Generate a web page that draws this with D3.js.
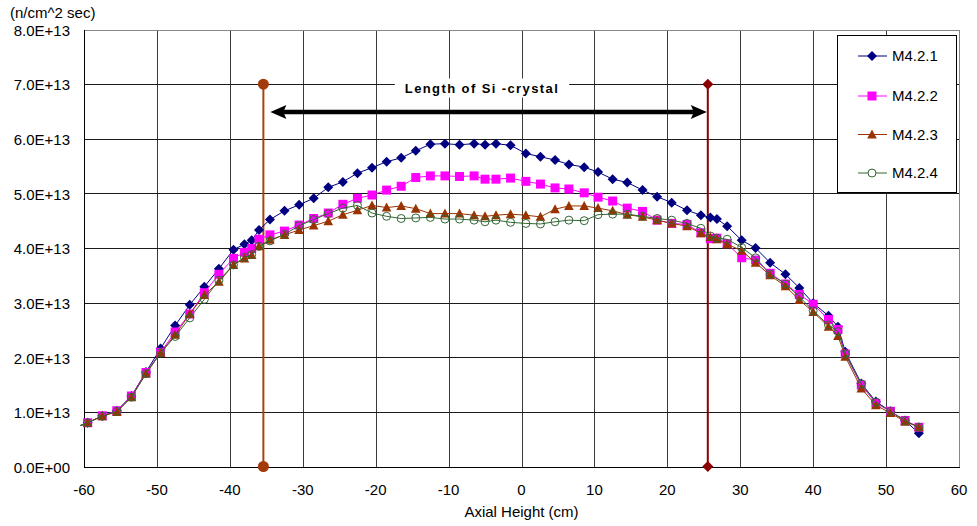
<!DOCTYPE html>
<html><head><meta charset="utf-8">
<script src="https://cdn.jsdelivr.net/npm/d3@7"></script>
<style>
body{margin:0;background:#fff;}
text{font-family:"Liberation Sans",Arial,sans-serif;}
</style></head>
<body><svg id="c" width="977" height="526"></svg>
<script>
const seriesNames = ["M4.2.1","M4.2.2","M4.2.3","M4.2.4"];
const xPos = [-61.5,-59.5,-57.5,-55.5,-53.5,-51.5,-49.5,-47.5,-45.5,-43.5,-41.5,-39.5,-38,-37,-36,-34.5,-32.5,-30.5,-28.5,-26.5,-24.5,-22.5,-20.5,-18.5,-16.5,-14.5,-12.5,-10.5,-8.5,-6.5,-5,-3.5,-1.5,0.6,2.6,4.6,6.5,8.6,10.5,12.5,14.5,16.6,18.6,20.6,22.7,24.6,25.9,26.8,28.2,30.2,32.1,34.1,36.2,38.1,40.0,42.1,43.4,44.4,46.6,48.6,50.6,52.6,54.5];
// values in units of 1E13 n/cm^2 sec
const m421 = [0.70,0.80,0.93,1.02,1.29,1.73,2.16,2.58,2.96,3.29,3.62,3.97,4.07,4.14,4.33,4.52,4.68,4.79,4.91,5.11,5.21,5.37,5.47,5.58,5.65,5.78,5.90,5.91,5.89,5.91,5.89,5.91,5.88,5.73,5.67,5.61,5.53,5.48,5.39,5.26,5.20,5.06,4.94,4.83,4.69,4.60,4.56,4.53,4.40,4.14,4.00,3.73,3.52,3.27,2.99,2.76,2.56,2.10,1.52,1.19,1.01,0.84,0.61];
const m422 = [0.70,0.80,0.93,1.02,1.29,1.72,2.09,2.46,2.79,3.18,3.52,3.81,3.92,3.99,4.16,4.24,4.31,4.42,4.54,4.64,4.80,4.91,4.97,5.06,5.13,5.29,5.32,5.32,5.31,5.32,5.26,5.26,5.28,5.22,5.17,5.10,5.08,5.01,4.93,4.86,4.73,4.67,4.51,4.45,4.43,4.28,4.17,4.18,4.08,3.82,3.78,3.54,3.34,3.15,2.97,2.69,2.51,2.06,1.49,1.16,1.01,0.84,0.72];
const m423 = [0.70,0.80,0.92,1.00,1.27,1.70,2.08,2.41,2.79,3.14,3.38,3.69,3.81,3.87,4.03,4.15,4.24,4.33,4.41,4.49,4.61,4.69,4.78,4.74,4.77,4.72,4.63,4.63,4.63,4.60,4.58,4.60,4.62,4.60,4.57,4.71,4.77,4.77,4.73,4.68,4.61,4.57,4.51,4.45,4.40,4.27,4.20,4.16,4.07,3.95,3.73,3.50,3.30,3.05,2.83,2.56,2.39,2.01,1.43,1.12,0.98,0.82,0.72];
const m424 = [0.70,0.80,0.92,1.01,1.27,1.70,2.08,2.38,2.72,3.06,3.41,3.69,3.83,3.88,4.03,4.13,4.25,4.41,4.52,4.63,4.73,4.78,4.64,4.58,4.54,4.55,4.56,4.53,4.53,4.51,4.48,4.51,4.47,4.45,4.44,4.48,4.51,4.50,4.61,4.62,4.62,4.58,4.54,4.51,4.45,4.36,4.22,4.18,4.16,4.01,3.82,3.52,3.34,3.11,2.85,2.59,2.47,2.06,1.51,1.18,1.01,0.84,0.72];
const xTicks = [-60,-50,-40,-30,-20,-10,0,10,20,30,40,50,60];
const yTicks = [0,1,2,3,4,5,6,7,8];
const yTickLabels = ["0.0E+00","1.0E+13","2.0E+13","3.0E+13","4.0E+13","5.0E+13","6.0E+13","7.0E+13","8.0E+13"];
const crystalStart = -35.4, crystalEnd = 25.55, markerTop = 7, arrowLevel = 6.49;
const annotation = "Length of Si -crystal";
const yUnitLabel = "(n/cm^2 sec)";
const xTitle = "Axial Height (cm)";

const colors = ["#000080","#FF00FF","#993300","#336633"];
const shapes = ["diamond","square","triangle","circle"];
const allSeries = [m421,m422,m423,m424];

const svg = d3.select("#c");
const L=84, R=959, T=29.5, B=466.5;
const x = d3.scaleLinear().domain([-60,60]).range([L,R]);
const y = d3.scaleLinear().domain([0,8]).range([B,T]);

function markerPath(shape){
  if(shape==="diamond") return "M0,-5L5,0L0,5L-5,0Z";
  if(shape==="square") return "M-4.5,-4.5H4.5V4.5H-4.5Z";
  if(shape==="triangle") return "M0,-5L4.8,4L-4.8,4Z";
  return d3.symbol(d3.symbolCircle, 50)();
}

// gridlines
const g = svg.append("g").attr("shape-rendering","crispEdges");
g.selectAll(".vg").data(xTicks.filter(d=>d>-60&&d<60)).join("line")
  .attr("x1",d=>Math.round(x(d))+0.5).attr("x2",d=>Math.round(x(d))+0.5)
  .attr("y1",T).attr("y2",B).attr("stroke","#3a3a3a").attr("stroke-width",1);
g.selectAll(".hg").data(yTicks.filter(d=>d>0&&d<8)).join("line")
  .attr("x1",L).attr("x2",R).attr("y1",d=>Math.round(y(d))+0.5).attr("y2",d=>Math.round(y(d))+0.5)
  .attr("stroke","#1a1a1a").attr("stroke-width",1);
// border
g.append("line").attr("x1",L).attr("x2",R).attr("y1",Math.round(T)+0.5).attr("y2",Math.round(T)+0.5).attr("stroke","#888");
g.append("line").attr("x1",Math.round(R)+0.5).attr("x2",Math.round(R)+0.5).attr("y1",T).attr("y2",B).attr("stroke","#888");
g.append("line").attr("x1",Math.round(L)+0.5).attr("x2",Math.round(L)+0.5).attr("y1",T).attr("y2",B+0.5).attr("stroke","#000");
g.append("line").attr("x1",L).attr("x2",R+1).attr("y1",Math.round(B)+0.5).attr("y2",Math.round(B)+0.5).attr("stroke","#000");

// axes labels
svg.append("g").selectAll("text").data(yTicks).join("text")
  .attr("x",70).attr("y",d=>y(d)+1).attr("dy","0.35em").attr("text-anchor","end")
  .attr("font-size",15).attr("fill","#000").text((d,i)=>yTickLabels[i]);
svg.append("g").selectAll("text").data(xTicks).join("text")
  .attr("x",d=>x(d)).attr("y",490).attr("dy","0.35em").attr("text-anchor","middle")
  .attr("font-size",15).attr("fill","#000").text(d=>d);
svg.append("text").attr("x",10).attr("y",13).attr("dy","0.35em").attr("font-size",15).text(yUnitLabel);
svg.append("text").attr("x",(L+R)/2).attr("y",512).attr("dy","0.35em").attr("text-anchor","middle").attr("font-size",15).text(xTitle);

// annotation: crystal boundaries
const ann = svg.append("g");
ann.append("line").attr("x1",x(crystalStart)).attr("x2",x(crystalStart)).attr("y1",y(0)).attr("y2",y(markerTop))
  .attr("stroke","#A8420F").attr("stroke-width",2);
ann.selectAll(".lc").data([0,markerTop]).join("circle").attr("cx",x(crystalStart)).attr("cy",d=>y(d)).attr("r",5.5).attr("fill","#A33A0A");
ann.append("line").attr("x1",x(crystalEnd)).attr("x2",x(crystalEnd)).attr("y1",y(0)).attr("y2",y(markerTop))
  .attr("stroke","#8B0000").attr("stroke-width",2);
ann.selectAll(".rd").data([0,markerTop]).join("path").attr("transform",d=>`translate(${x(crystalEnd)},${y(d)})`)
  .attr("d","M0,-5.5L5.5,0L0,5.5L-5.5,0Z").attr("fill","#8B0000");
// arrow
const ax1 = x(crystalStart)+7, ax2 = x(crystalEnd)-1, ay = y(arrowLevel);
ann.append("line").attr("x1",ax1+12).attr("x2",ax2-12).attr("y1",ay).attr("y2",ay).attr("stroke","#000").attr("stroke-width",4.5);
ann.append("path").attr("d",`M${ax1},${ay}L${ax1+16},${ay-7}L${ax1+13},${ay}L${ax1+16},${ay+7}Z`).attr("fill","#000");
ann.append("path").attr("d",`M${ax2},${ay}L${ax2-16},${ay-7}L${ax2-13},${ay}L${ax2-16},${ay+7}Z`).attr("fill","#000");
// label with white box
const lbl = ann.append("text").attr("x",482).attr("y",88).attr("dy","0.35em").attr("text-anchor","middle")
  .attr("font-size",13).attr("font-weight","bold").attr("letter-spacing","1.4px").text(annotation);
const bb = lbl.node().getBBox();
ann.insert("rect","text").attr("x",bb.x-10).attr("y",bb.y-2).attr("width",bb.width+20).attr("height",bb.height+4).attr("fill","#fff");

// series
svg.append("defs").append("clipPath").attr("id","clip").append("rect").attr("x",80).attr("y",0).attr("width",R+1-80).attr("height",B+5);
const sg = svg.append("g").attr("clip-path","url(#clip)");
allSeries.forEach((vals,i)=>{
  const pts = xPos.map((xv,j)=>[xv,vals[j]]);
  const line = d3.line().x(d=>x(d[0])).y(d=>y(d[1]));
  sg.append("path").datum(pts).attr("d",line).attr("fill","none").attr("stroke",colors[i]).attr("stroke-width",1);
  sg.selectAll(".m"+i).data(pts.filter(d=>d[0]>=-60)).join("path")
    .attr("transform",d=>`translate(${x(d[0])},${y(d[1])})`)
    .attr("d",markerPath(shapes[i]))
    .attr("fill",shapes[i]==="circle"?"none":colors[i])
    .attr("stroke",colors[i]).attr("stroke-width",shapes[i]==="circle"?1:0);
});

// legend
const lg = svg.append("g");
lg.append("rect").attr("x",837).attr("y",35.5).attr("width",119).attr("height",157).attr("fill","#fff").attr("stroke","#000").attr("stroke-width",1).attr("shape-rendering","crispEdges");
const ly = [56,96,134.5,173];
seriesNames.forEach((n,i)=>{
  lg.append("line").attr("x1",858).attr("x2",887).attr("y1",ly[i]).attr("y2",ly[i]).attr("stroke",colors[i]).attr("stroke-width",1);
  lg.append("path").attr("transform",`translate(872,${ly[i]})`).attr("d",markerPath(shapes[i]))
    .attr("fill",shapes[i]==="circle"?"#fff":colors[i]).attr("stroke",colors[i]).attr("stroke-width",shapes[i]==="circle"?1:0);
  lg.append("text").attr("x",892).attr("y",ly[i]).attr("dy","0.35em").attr("font-size",15).text(n);
});
</script></body></html>
